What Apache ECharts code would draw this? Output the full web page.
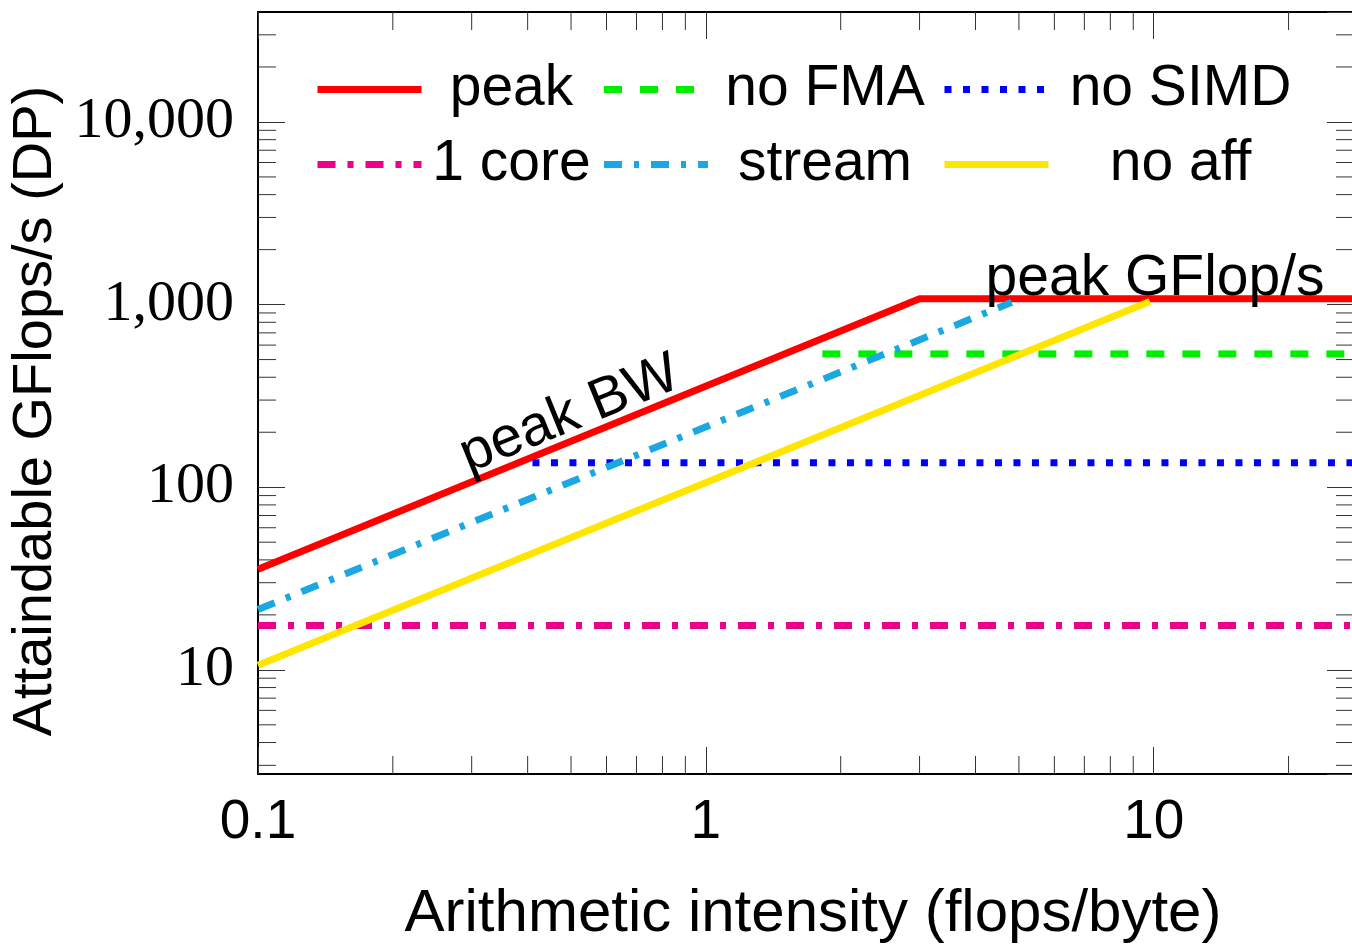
<!DOCTYPE html>
<html><head><meta charset="utf-8">
<script src="https://cdn.jsdelivr.net/npm/echarts@6/dist/echarts.min.js"></script>
<style>html,body{margin:0;padding:0;background:#fff}#c{width:1352px;height:947px}</style>
</head><body><div id="c"></div>
<script>
// ---- data ----
const xRange = [0.1, 28];
const yRange = [2.69, 40000];
const xMajorTicks = [0.1, 1, 10];
const xTickLabels = ['0.1', '1', '10'];
const yMajorTicks = [10, 100, 1000, 10000];
const yTickLabels = ['10', '100', '1,000', '10,000'];
const xMinorTicks = [0.2,0.3,0.4,0.5,0.6,0.7,0.8,0.9,2,3,4,5,6,7,8,9,20];
const yMinorTicks = [3,4,5,6,7,8,9,20,30,40,50,60,70,80,90,200,300,400,500,600,700,800,900,2000,3000,4000,5000,6000,7000,8000,9000,20000,30000];
const seriesNames = ['peak', 'no FMA', 'no SIMD', '1 core', 'stream', 'no aff'];
const legendRow1 = ['peak', 'no FMA', 'no SIMD'];
const legendRow2 = ['1 core', 'stream', 'no aff'];
const peak    = [[0.1, 35.6], [3.0, 1075], [28, 1075]];
const noFMA   = [[1.82, 537], [28, 537]];
const noSIMD  = [[0.41, 136], [28, 136]];
const oneCore = [[0.1, 17.5], [28, 17.5]];
const stream  = [[0.1, 21.4], [4.82, 1030]];
const noAff   = [[0.1, 10.6], [9.8, 1040]];
const annotationTexts = ['peak BW', 'peak GFlop/s'];
const annotationPoints = [[0.497, 249], [10.07, 1371]];
const xTitle = 'Arithmetic intensity (flops/byte)';
const yTitle = 'Attaindable GFlops/s (DP)';

// ---- styles ----
const SANS = 'Liberation Sans';
const SERIF = 'Liberation Serif';
const LW = 7;
const styles = {
  'peak':    {color: '#ff0000', type: 'solid'},
  'no FMA':  {color: '#00ee00', type: [18, 18]},
  'no SIMD': {color: '#0000ff', type: [7, 11.5]},
  '1 core':  {color: '#ec008c', type: [18, 12, 6, 12]},
  'stream':  {color: '#1aa8e2', type: [18, 12, 5, 12]},
  'no aff':  {color: '#ffe600', type: 'solid'}
};
const seriesData = {'peak': peak, 'no FMA': noFMA, 'no SIMD': noSIMD, '1 core': oneCore, 'stream': stream, 'no aff': noAff};
const annotationRotate = [22, 0];

function labelFor(v, ticks, labels) {
  for (let i = 0; i < ticks.length; i++) {
    if (Math.abs(v - ticks[i]) / ticks[i] < 1e-6) return labels[i];
  }
  return '';
}

const MAJOR = 27, MINOR = 18;
const tickLine = {color: '#333', width: 1};

function minorSeries(vals, dim) {
  return {
    type: 'custom', silent: true, z: 1, clip: false,
    xAxisIndex: 0, yAxisIndex: 0,
    data: vals.map(v => dim === 'x' ? [v, 10] : [1, v]),
    renderItem: function (params, api) {
      const cs = params.coordSys;
      const children = [];
      if (dim === 'x') {
        const px = api.coord([api.value(0), 10])[0];
        const b = cs.y + cs.height, t = cs.y;
        children.push({type: 'line', shape: {x1: px, y1: b, x2: px, y2: b - MINOR}, style: {stroke: tickLine.color, lineWidth: tickLine.width}});
        children.push({type: 'line', shape: {x1: px, y1: t, x2: px, y2: t + MINOR}, style: {stroke: tickLine.color, lineWidth: tickLine.width}});
      } else {
        const py = api.coord([1, api.value(1)])[1];
        const l = cs.x, r = cs.x + cs.width;
        children.push({type: 'line', shape: {x1: l, y1: py, x2: l + MINOR, y2: py}, style: {stroke: tickLine.color, lineWidth: tickLine.width}});
        children.push({type: 'line', shape: {x1: r, y1: py, x2: r - MINOR, y2: py}, style: {stroke: tickLine.color, lineWidth: tickLine.width}});
      }
      return {type: 'group', children: children};
    }
  };
}

function makeLegend(row, top) {
  const widths = [170, 224, 254];
  const rich = {};
  widths.forEach((w, i) => {
    rich['c' + i] = {width: w, align: 'center', fontSize: 57, fontFamily: SANS, color: '#000', lineHeight: 60};
  });
  return {
    show: true, data: row, left: 314, top: top, orient: 'horizontal',
    itemWidth: 104, itemHeight: 20, itemGap: 4, padding: 0,
    selectedMode: false,
    lineStyle: {width: LW},
    itemStyle: {color: 'rgba(0,0,0,0)', borderWidth: 0, opacity: 0},
    formatter: name => '{c' + row.indexOf(name) + '|' + name + '}',
    textStyle: {fontSize: 57, fontFamily: SANS, color: '#000', rich: rich}
  };
}

const axisCommon = {
  type: 'log', logBase: 10, splitLine: {show: false},
  axisTick: {show: true, inside: true, length: MAJOR, lineStyle: tickLine},
  axisLine: {show: true, lineStyle: {color: '#000', width: 2}},
  minorTick: {show: false}
};

const series = seriesNames.map(n => ({
  name: n, type: 'line', data: seriesData[n], symbol: 'none', showSymbol: false,
  xAxisIndex: 0, yAxisIndex: 0, z: 3,
  lineStyle: {color: styles[n].color, width: LW, type: styles[n].type, cap: 'butt'},
  itemStyle: {color: styles[n].color},
  emphasis: {disabled: true}, animation: false
}));

series.push({
  type: 'scatter', silent: true, z: 6, xAxisIndex: 0, yAxisIndex: 0,
  symbolSize: 1, itemStyle: {color: 'rgba(0,0,0,0)', opacity: 1},
  data: annotationTexts.map((t, i) => ({name: t, value: annotationPoints[i], label: {rotate: annotationRotate[i]}})),
  label: {show: true, position: 'inside', formatter: '{b}', fontSize: 57, fontFamily: SANS, color: '#000', opacity: 1, align: 'center', verticalAlign: 'middle'},
  emphasis: {disabled: true},
  animation: false
});
series.push(minorSeries(xMinorTicks, 'x'));
series.push(minorSeries(yMinorTicks, 'y'));

const option = {
  backgroundColor: '#fff',
  animation: false,
  grid: {left: 258, top: 12, right: -2, bottom: 173, containLabel: false, outerBoundsMode: 'none'},
  legend: [makeLegend(legendRow1, 61), makeLegend(legendRow2, 136)],
  xAxis: [
    Object.assign({}, axisCommon, {
      position: 'bottom', min: xRange[0], max: xRange[1],
      name: xTitle, nameLocation: 'middle', nameGap: 110,
      nameTextStyle: {fontSize: 60, fontFamily: SANS, color: '#000', padding: [0, 0, 0, 14]},
      axisLabel: {show: true, margin: 21, fontSize: 55, fontFamily: SANS, color: '#000',
        showMinLabel: true, showMaxLabel: false,
        formatter: v => labelFor(v, xMajorTicks, xTickLabels)}
    }),
    Object.assign({}, axisCommon, {
      position: 'top', min: xRange[0], max: xRange[1], axisLabel: {show: false}
    })
  ],
  yAxis: [
    Object.assign({}, axisCommon, {
      position: 'left', min: yRange[0], max: yRange[1],
      name: yTitle, nameLocation: 'middle', nameGap: 180,
      nameTextStyle: {fontSize: 56, fontFamily: SANS, color: '#000', padding: [0, 36, 0, 0]},
      axisLabel: {show: true, margin: 24, fontSize: 58, fontFamily: SERIF, color: '#000',
        showMinLabel: false, showMaxLabel: false,
        formatter: v => labelFor(v, yMajorTicks, yTickLabels)}
    }),
    Object.assign({}, axisCommon, {
      position: 'right', min: yRange[0], max: yRange[1], axisLabel: {show: false}
    })
  ],
  series: series
};

const chart = echarts.init(document.getElementById('c'), null, {renderer: 'canvas'});
chart.setOption(option);
</script>
</body></html>
